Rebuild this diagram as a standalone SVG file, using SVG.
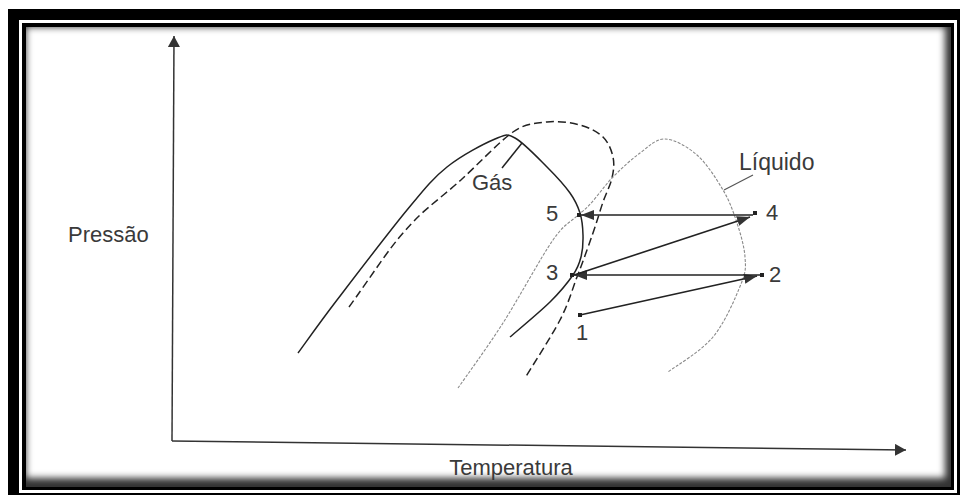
<svg xmlns="http://www.w3.org/2000/svg" width="962" height="497" viewBox="0 0 962 497">
<style>
.lbl{font-family:"Liberation Sans",Arial,sans-serif;font-size:22px;fill:#3a3a3a}
.solid{fill:none;stroke:#222;stroke-width:1.5}
.dash{fill:none;stroke:#222;stroke-width:1.5;stroke-dasharray:8 4}
.gray{fill:none;stroke:#8a8a8a;stroke-width:1.1;stroke-dasharray:3 1.5}
.conn{fill:none;stroke:#222;stroke-width:1.6}
.pt{fill:#222}
</style>
<defs>
<marker id="ah" markerUnits="userSpaceOnUse" markerWidth="15" markerHeight="11" refX="13" refY="5" orient="auto">
<path d="M0,0 L13,5 L0,10 z" fill="#333"/>
</marker>
<marker id="ax" markerUnits="userSpaceOnUse" markerWidth="12" markerHeight="13" refX="11" refY="6" orient="auto">
<path d="M0,0 L11,6 L0,12 z" fill="#333"/>
</marker>
<clipPath id="inner"><rect x="26" y="27" width="925" height="460"/></clipPath>
<filter id="blur" x="-5%" y="-5%" width="110%" height="110%"><feGaussianBlur stdDeviation="3.5"/></filter>
</defs>
<g id="frame">
<rect x="8" y="9" width="952" height="486" fill="#000"/>
<rect x="19" y="20" width="938" height="473" fill="#fff"/>
<rect x="22" y="23" width="932" height="467" fill="#000"/>
<rect x="26" y="27" width="925" height="460" fill="#fff"/>
<path clip-path="url(#inner)" filter="url(#blur)" fill-rule="evenodd" fill="#000" fill-opacity="0.8" d="M0 0 H962 V497 H0 Z M26 27 H945 V478 H26 Z"/>
</g>
<g id="axes">
<line x1="172" y1="441" x2="174" y2="36" stroke="#333" stroke-width="1.5" marker-end="url(#ax)"/>
<line x1="172" y1="441" x2="906" y2="450" stroke="#333" stroke-width="1.5" marker-end="url(#ax)"/>
<text class="lbl" x="68" y="242">Pressão</text>
<text class="lbl" x="511" y="475" text-anchor="middle">Temperatura</text>
</g>
<g id="gas-curve">
<path class="solid" d="M298,353 C304.5,344.2 318.8,323.8 337,300 C355.2,276.2 388.7,232.2 407,210 C425.3,187.8 432.3,178.8 447,167 C461.7,155.2 483.7,143.8 495,139 C506.3,134.2 506.3,133.3 515,138 C523.7,142.7 537.8,157.8 547,167 C556.2,176.2 564.5,185.3 570,193 C575.5,200.7 577.8,206 580,213 C582.2,220 582.8,227.7 583,235 C583.2,242.3 582.7,250.3 581,257 C579.3,263.7 578.2,267.5 573,275 C567.8,282.5 560.5,291.7 550,302 C539.5,312.3 516.7,331.2 510,337"/>
<line class="solid" x1="502" y1="168" x2="522" y2="143"/>
<text class="lbl" x="472" y="190">Gás</text>
</g>
<g id="dashed-curve">
<path class="dash" d="M349,307 C355.8,298 374.2,271 385,256 C395.8,241 402.2,233.7 414,221 C425.8,208.3 446.5,193.2 462,179 C477.5,164.8 499.7,141.2 513,132 C526.3,122.8 535.8,123.2 547,122 C558.2,120.8 570.7,122.5 580,125 C589.3,127.5 597.5,131.7 603,137 C608.5,142.3 611.5,150.2 613,157 C614.5,163.8 613.7,170.5 612,178 C610.3,185.5 605.8,193.8 603,202 C600.2,210.2 597.7,219 595,227 C592.3,235 590,241.7 587,250 C584,258.3 581.5,265.3 577,277 C572.5,288.7 568.7,303.2 560,320 C551.3,336.8 530.8,368.3 525,378"/>
</g>
<g id="liquid-curve">
<path class="gray" d="M458,388 C465.5,377.2 487.2,347.7 503,323 C518.8,298.3 540.2,258.3 553,240 C565.8,221.7 570,223.5 580,213 C590,207.5 603,187 613,177 C623,167 631.3,159.3 640,153 C648.7,146.7 655.5,138.7 665,139 C674.5,139.3 687.3,146.5 697,155 C706.7,163.5 716.3,178.7 723,190 C729.7,201.3 733.3,211.8 737,223 C740.7,234.2 744.3,246.8 745,257 C745.7,267.2 746.3,270.7 741,284 C735.7,297.3 725.2,322.3 713,337 C700.8,351.7 675.5,366.2 668,372"/>
<line x1="724" y1="190" x2="753" y2="175" stroke="#555" stroke-width="1.2"/>
<text class="lbl" x="739" y="170" style="font-size:23px">Líquido</text>
</g>
<g id="connectors">
<line class="conn" x1="580" y1="315" x2="757" y2="276" marker-end="url(#ah)"/>
<line class="conn" x1="760" y1="275" x2="574" y2="275" marker-end="url(#ah)"/>
<line class="conn" x1="574" y1="275" x2="750" y2="217" marker-end="url(#ah)"/>
<line class="conn" x1="753" y1="215" x2="581" y2="215" marker-end="url(#ah)"/>
</g>
<g id="point-1"><rect class="pt" x="578" y="313" width="4" height="4"/><text class="lbl" x="576" y="340">1</text></g>
<g id="point-2"><rect class="pt" x="760" y="273" width="4" height="4"/><text class="lbl" x="769" y="282">2</text></g>
<g id="point-3"><rect class="pt" x="570" y="273" width="4" height="4"/><text class="lbl" x="546" y="280">3</text></g>
<g id="point-4"><rect class="pt" x="753" y="211" width="4" height="4"/><text class="lbl" x="766" y="220">4</text></g>
<g id="point-5"><rect class="pt" x="577" y="213" width="4" height="4"/><text class="lbl" x="546" y="221">5</text></g>
</svg>
